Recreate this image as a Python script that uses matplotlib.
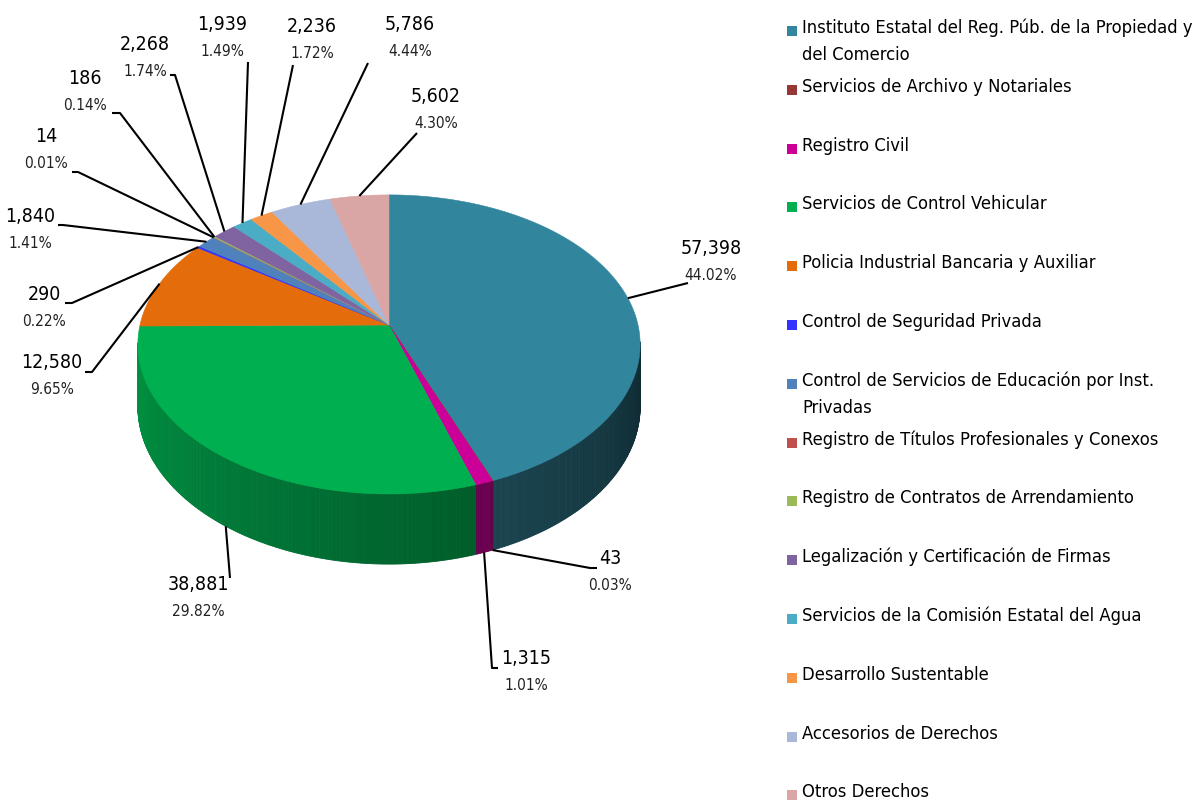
import numpy as np
import matplotlib
matplotlib.use("Agg")
import matplotlib.pyplot as plt
from matplotlib import font_manager as fm
from matplotlib.collections import PolyCollection
from matplotlib.patches import Rectangle
from matplotlib.colors import to_rgb

# ---------------- data ----------------
categories = [
    "Instituto Estatal del Reg. Púb. de la Propiedad y\ndel Comercio",
    "Servicios de Archivo y Notariales",
    "Registro Civil",
    "Servicios de Control Vehicular",
    "Policia Industrial Bancaria y Auxiliar",
    "Control de Seguridad Privada",
    "Control de Servicios de Educación por Inst.\nPrivadas",
    "Registro de Títulos Profesionales y Conexos",
    "Registro de Contratos de Arrendamiento",
    "Legalización y Certificación de Firmas",
    "Servicios de la Comisión Estatal del Agua",
    "Desarrollo Sustentable",
    "Accesorios de Derechos",
    "Otros Derechos",
]
values = [57398, 43, 1315, 38881, 12580, 290, 1840, 14, 186, 2268, 1939, 2236, 5786, 5602]
colors = ["#31859c", "#953735", "#cc0099", "#00b050", "#e46c0a", "#3333ff", "#4f81bd",
          "#c0504d", "#9bbb59", "#8064a2", "#4bacc6", "#f79646", "#a9b8d9", "#d9a5a5"]

# ---------------- layout (pixel positions) ----------------
label_pos = [(711, 248), (610, 559), (526, 659), (198, 585), (52, 362), (44, 295), (30, 217),
             (46, 137), (85, 78), (145, 45), (222, 24), (312, 27), (410, 25), (436, 96)]
leader_elbow = [(688, 283), (590, 568), (492, 668), (230, 578), (92, 372), (72, 303), (63, 225),
                (78, 172), (120, 113), (175, 75), (248, 62), (293, 65), (368, 63), (417, 133)]
leader_stub = [None, (597, 568), (498, 668), None, (85, 372), (65, 303), (58, 225),
               (72, 172), (112, 113), (170, 75), None, None, None, None]

W, H = 1204, 801
CX, CY = 389, 325          # pie centre
A, B, K = 249, 147, 0.13   # x radius, y radius, perspective factor
DEPTH = 61


def has_font(name):
    try:
        fm.findfont(fm.FontProperties(family=name), fallback_to_default=False)
        return True
    except Exception:
        return False


if has_font("Liberation Sans Narrow"):
    FONT = dict(family="Liberation Sans Narrow")
    SCALE = 1.0
else:
    FONT = dict(family="DejaVu Sans", stretch="condensed")
    SCALE = 0.85

fig = plt.figure(figsize=(W / 100, H / 100), dpi=100)
ax = fig.add_axes([0, 0, 1, 1])
ax.set_xlim(0, W)
ax.set_ylim(H, 0)
ax.axis("off")


def proj(theta, drop=0.0):
    u, v = np.cos(theta), np.sin(theta)
    w = 1 + K * v
    return CX + A * u / w, CY - B * v / w + drop / w


total = float(sum(values))
cum = np.concatenate([[0], np.cumsum(values)]) / total
t_start = np.pi / 2 - 2 * np.pi * cum[:-1]
t_end = np.pi / 2 - 2 * np.pi * cum[1:]

# ---- side walls (front-facing part only) ----
polys, fcols = [], []
for i, c in enumerate(colors):
    a0, a1 = t_end[i], t_start[i]
    n = max(int(np.degrees(a1 - a0) * 2) + 2, 2)
    ts = np.linspace(a0, a1, n)
    base = np.array(to_rgb(c))
    for j in range(n - 1):
        t0, t1 = ts[j], ts[j + 1]
        tm = 0.5 * (t0 + t1)
        if np.sin(tm) > -0.9 * K:
            continue
        s = ((tm % (2 * np.pi)) - np.pi) / np.pi
        s = min(max(s, 0), 1)
        f = 0.86 - 0.56 * s
        x0, y0 = proj(t0)
        x1, y1 = proj(t1)
        x2, y2 = proj(t1, DEPTH)
        x3, y3 = proj(t0, DEPTH)
        polys.append([(x0, y0), (x1, y1), (x2, y2), (x3, y3)])
        fcols.append(tuple(base * f))
pc = PolyCollection(polys, facecolors=fcols, edgecolors=fcols, linewidths=0.6, zorder=1)
ax.add_collection(pc)

# ---- top faces ----
for i, c in enumerate(colors):
    n = max(int(np.degrees(t_start[i] - t_end[i]) * 2) + 2, 2)
    ts = np.linspace(t_start[i], t_end[i], n)
    xs, ys = proj(ts)
    xs = np.concatenate([[CX], xs])
    ys = np.concatenate([[CY], ys])
    ax.fill(xs, ys, facecolor=c, edgecolor=c, linewidth=0.4, zorder=2)

# ---- labels + leader lines ----
for i, v in enumerate(values):
    mid = 0.5 * (t_start[i] + t_end[i])
    if np.sin(mid) < -0.3:
        ax_, ay_ = proj(mid, DEPTH)
    else:
        ax_, ay_ = proj(mid)
    pts = [(ax_, ay_), leader_elbow[i]]
    if leader_stub[i] is not None:
        pts.append(leader_stub[i])
    px, py = zip(*pts)
    ax.plot(px, py, color="black", lw=1.5, zorder=3, solid_capstyle="butt")
    lx, ly = label_pos[i]
    ax.text(lx, ly, f"{v:,}", ha="center", va="center", fontsize=16.5 * SCALE,
            color="black", zorder=4, **FONT)
    ax.text(lx, ly + 27, f"{v / total * 100:.2f}%", ha="center", va="center",
            fontsize=13 * SCALE, color="#222222", zorder=4, **FONT)

# ---- legend ----
for i, (name, c) in enumerate(zip(categories, colors)):
    yc = 28 + 58.8 * i
    ax.add_patch(Rectangle((787, yc - 2), 10, 10, facecolor=c, edgecolor="none", zorder=3))
    for k, line in enumerate(name.split("\n")):
        ax.text(802, yc + 27 * k, line, ha="left", va="center", fontsize=15.5 * SCALE,
                color="black", **FONT)

fig.savefig("out.png", dpi=100)
